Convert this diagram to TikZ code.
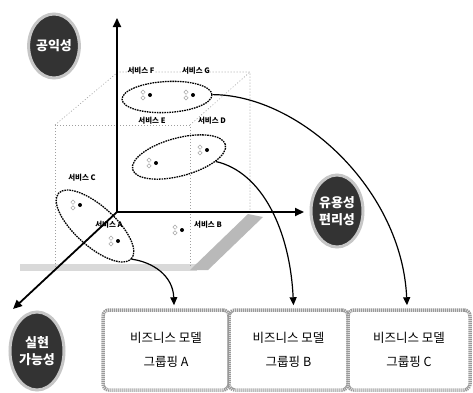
\documentclass[tikz,border=0pt]{standalone}
\usepackage{fontspec}
\setmainfont{Noto Sans CJK KR}
\usetikzlibrary{shapes.geometric,arrows.meta}
\tikzset{
  axis/.style={line width=1.8pt, -{Triangle[length=9pt,width=8pt]}},
  cube/.style={gray!75, line width=0.6pt, dash pattern=on 1pt off 2pt},
  grp/.style={ellipse, draw, line width=1.3pt, dash pattern=on 1.6pt off 0.9pt, inner sep=0pt},
  link/.style={line width=1.2pt, -{Triangle[length=8pt,width=7pt]}},
  bubble/.style={ellipse, fill=black!80, draw=gray!45, line width=3pt, text=white,
    font=\bfseries\fontsize{13}{17}\selectfont, align=center, inner sep=0pt},
  svclabel/.style={font=\bfseries\fontsize{7.5}{8}\selectfont, inner sep=0.5pt, fill=white},
  mbox/.style={draw=black!40, line width=3.5pt, dash pattern=on 1.2pt off 0.8pt,
    rounded corners=6pt, fill=white, align=center, minimum height=80pt,
    font=\fontsize{12.5}{24}\selectfont},
  svcicon/.pic={
    \node[diamond,draw=gray!70,line width=0.5pt,inner sep=0pt,minimum size=4.5pt] at (0,-2.8) {};
    \node[diamond,draw=gray!70,line width=0.5pt,inner sep=0pt,minimum size=4.5pt] at (0,2.8) {};
    \fill (7,0) circle (2pt);
  }
}
\begin{document}
\begin{tikzpicture}[x=1pt,y=-1pt]
\useasboundingbox[fill=white] (0,0) rectangle (473,392);

% floor shading
\fill[gray!30] (20,264) rectangle (197,271);
\fill[gray!55] (190,270) -- (248,214) -- (263,217) -- (208,270) -- cycle;

% cube (dotted)
\draw[cube] (55,267) -- (55,125) -- (190,125) -- (190,267);
\draw[cube] (55,125) -- (118,72) -- (250,72) -- (250,213);
\draw[cube] (190,125) -- (250,72);

% axes
\coordinate (O) at (117,212);
\coordinate (ytop) at (117,18);
\coordinate (xend) at (304,212);
\coordinate (zend) at (13,309);
\draw[axis] (O) -- (ytop);
\draw[axis] (O) -- (xend);
\draw[axis] (O) -- (zend);

% groups
\node[grp, minimum width=90pt, minimum height=31pt, rotate=3] (fg) at (167,97) {};
\node[grp, minimum width=96pt, minimum height=38pt, rotate=15] (de) at (179,157) {};
\node[grp, minimum width=98pt, minimum height=40pt, rotate=-42] (ac) at (95,226) {};

% icons
\pic at (143,95) {svcicon};
\pic at (186,95) {svcicon};
\pic at (200,150) {svcicon};
\pic at (149,163) {svcicon};
\pic at (73,205) {svcicon};
\pic at (111,241) {svcicon};
\pic at (175,230) {svcicon};

% service labels
\node[svclabel] (sF) at (141,71) {서비스 F};
\node[svclabel] (sG) at (196,71) {서비스 G};
\node[svclabel] (sE) at (152,121) {서비스 E};
\node[svclabel] (sD) at (212,121) {서비스 D};
\node[svclabel] (sC) at (82,178) {서비스 C};
\node[font=\bfseries\fontsize{7.5}{8}\selectfont, inner sep=0.5pt] (sA) at (109,225) {서비스 A};
\node[font=\bfseries\fontsize{7.5}{8}\selectfont, inner sep=0.5pt] (sB) at (208,225) {서비스 B};

% bubbles
\node[bubble, minimum width=48pt, minimum height=64pt] (b1) at (54,46) {공익성};
\node[bubble, minimum width=52pt, minimum height=72pt] (b2) at (337,211) {유용성\\편리성};
\node[bubble, minimum width=54pt, minimum height=78pt] (b3) at (37,351) {실현\\가능성};

% boxes
\node[mbox, minimum width=126pt] (boxA) at (166,350) {비즈니스 모델\\그룹핑 A};
\node[mbox, minimum width=119pt] (boxB) at (288.5,350) {비즈니스 모델\\그룹핑 B};
\node[mbox, minimum width=122pt] (boxC) at (409,350) {비즈니스 모델\\그룹핑 C};

% links
\draw[link] (fg.east) .. controls (300,95) and (402,190) .. ([xshift=-2pt,yshift=3pt]boxC.north);
\draw[link] (de.south east) .. controls (262,172) and (290,230) .. ([xshift=5pt,yshift=3pt]boxB.north);
\draw[link] (ac.east) .. controls (152,262) and (173,275) .. ([xshift=8pt,yshift=3pt]boxA.north);
\end{tikzpicture}
\end{document}
